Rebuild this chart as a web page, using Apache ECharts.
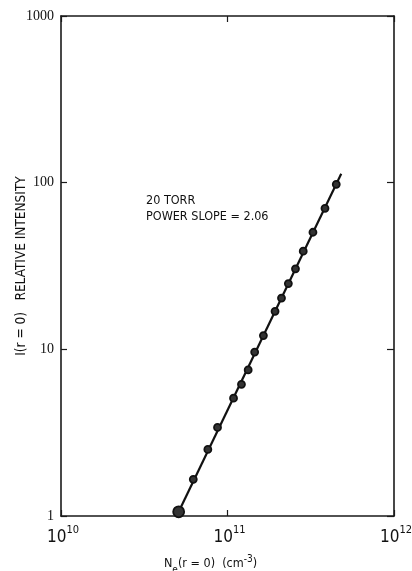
<!DOCTYPE html>
<html><head><meta charset="utf-8">
<script src="https://cdn.jsdelivr.net/npm/echarts@6/dist/echarts.min.js"></script>
<style>html,body{margin:0;padding:0;background:#fff}#c{width:412px;height:571px}</style>
</head><body><div id="c"></div>
<script>
// Electron density at r=0 (cm^-3)
var density = [5.09e10, 6.23e10, 7.62e10, 8.71e10, 1.087e11, 1.213e11, 1.331e11, 1.456e11, 1.643e11,
  1.93e11, 2.11e11, 2.32e11, 2.56e11, 2.85e11, 3.26e11, 3.85e11, 4.50e11];
// Relative intensity at r=0
var intensity = [1.06, 1.66, 2.51, 3.40, 5.09, 6.17, 7.52, 9.63, 12.1,
  16.9, 20.3, 24.8, 30.4, 38.8, 50.4, 70.2, 97.7];
// Fitted power-law line endpoints
var fitX = [4.95e10, 4.82e11];
var fitY = [1.0, 113];
var xTicks = [1e10, 1e11, 1e12];
var yTicks = [1, 10, 100, 1000];
var annotation = ['20 TORR', 'POWER SLOPE = 2.06'];

var chart = echarts.init(document.getElementById('c'), null, {renderer: 'canvas'});
var frame = {show: true, lineStyle: {color: '#1a1a1a', width: 1.6}};
var pts = density.map(function (d, i) {
  return {value: [d, intensity[i]], symbolSize: i === 0 ? 11 : 7};
});
var fit = fitX.map(function (d, i) { return [d, fitY[i]]; });
chart.setOption({
  animation: false,
  backgroundColor: '#fff',
  grid: {left: 61, right: 18, top: 16, bottom: 55, containLabel: false, outerBoundsMode: 'none'},
  xAxis: [{
    type: 'log', min: xTicks[0], max: xTicks[2], logBase: 10,
    axisLine: frame, splitLine: {show: false},
    axisTick: {show: true, inside: true, length: 6, lineStyle: {color: '#1a1a1a', width: 1.2}},
    axisLabel: {
      margin: 9,
      padding: [0, 0, 0, 4],
      formatter: function (v) {
        var e = Math.round(Math.log10(v));
        return '{b|10}{s|' + e + '}';
      },
      rich: {
        b: {fontFamily: 'DejaVu Sans Condensed', fontSize: 17, color: '#111', verticalAlign: 'bottom'},
        s: {fontFamily: 'DejaVu Sans Condensed', fontSize: 11, color: '#111', verticalAlign: 'top', padding: [0, 0, 10, 0]}
      }
    },
    name: 'N{sub|e}(r = 0)  (cm{sup|-3})',
    nameLocation: 'middle', nameGap: 37, nameMoveOverlap: false,
    nameTextStyle: {
      fontFamily: 'DejaVu Sans Condensed', fontSize: 12.5, color: '#111',
      padding: [0, 34, 0, 0],
      rich: {
        sub: {fontFamily: 'DejaVu Sans Condensed', fontSize: 10, color: '#111', padding: [12, 0, 0, 0]},
        sup: {fontFamily: 'DejaVu Sans Condensed', fontSize: 10, color: '#111', padding: [0, 0, 10, 0]}
      }
    }
  }, {
    type: 'log', min: xTicks[0], max: xTicks[2], position: 'top',
    axisLine: frame, splitLine: {show: false}, axisLabel: {show: false},
    axisTick: {show: true, inside: true, length: 6, lineStyle: {color: '#1a1a1a', width: 1.2}}
  }],
  yAxis: [{
    type: 'log', min: yTicks[0], max: yTicks[3], logBase: 10,
    axisLine: frame, splitLine: {show: false},
    axisTick: {show: true, inside: true, length: 6, lineStyle: {color: '#1a1a1a', width: 1.2}},
    axisLabel: {fontFamily: 'Liberation Serif', fontSize: 14, color: '#111', margin: 7,
      formatter: function (v) { return String(Math.round(v)); }},
    name: 'I(r = 0)   RELATIVE INTENSITY',
    nameLocation: 'middle', nameGap: 33, nameRotate: 90, nameMoveOverlap: false,
    nameTextStyle: {fontFamily: 'DejaVu Sans Condensed', fontSize: 13.5, color: '#111'}
  }, {
    type: 'log', min: yTicks[0], max: yTicks[3], position: 'right',
    axisLine: frame, splitLine: {show: false}, axisLabel: {show: false},
    axisTick: {show: true, inside: true, length: 7, lineStyle: {color: '#1a1a1a', width: 1.2}}
  }],
  graphic: [{
    type: 'text', left: 146, top: 193,
    style: {text: annotation.join('\n'), fontFamily: 'DejaVu Sans Condensed', fontSize: 12.5, lineHeight: 16, fill: '#111'}
  }],
  series: [{
    type: 'line', data: fit, symbol: 'none', xAxisIndex: 0, yAxisIndex: 0,
    lineStyle: {color: '#111', width: 2.2}, z: 2
  }, {
    type: 'scatter', data: pts, symbol: 'circle', xAxisIndex: 0, yAxisIndex: 0,
    itemStyle: {color: '#333', borderColor: '#111', borderWidth: 1.8, opacity: 1}, z: 3
  }]
});
</script></body></html>
